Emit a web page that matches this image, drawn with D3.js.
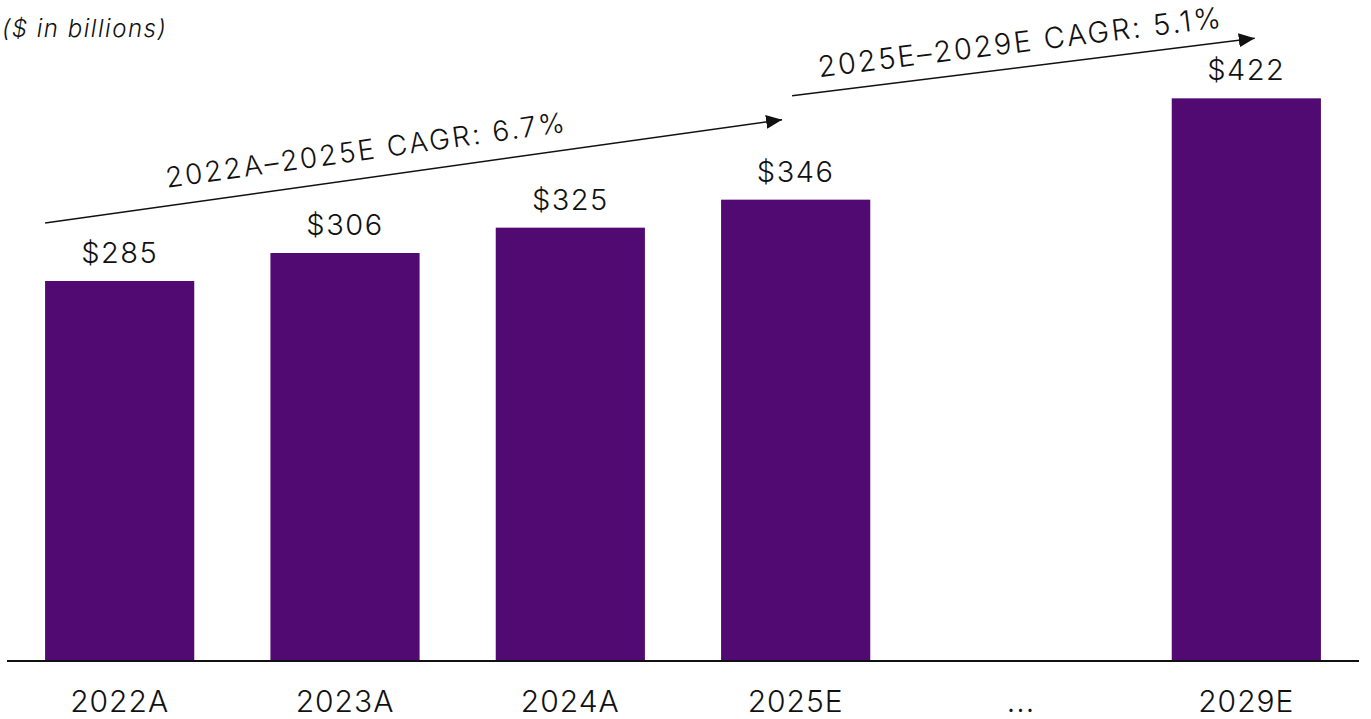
<!DOCTYPE html>
<html>
<head>
<meta charset="utf-8">
<script src="https://cdn.jsdelivr.net/npm/d3@7"></script>
<style>
  body { margin: 0; background: #fff; }
  text { font-family: Inter, "Open Sans", sans-serif; fill: #111; font-weight: 350; }
</style>
</head>
<body>
<div id="canvas"></div>
<script>
// chart data
var categories = ["2022A", "2023A", "2024A", "2025E", "...", "2029E"];
var values = [285, 306, 325, 346, null, 422];
var cagrLabels = ["2022A\u20132025E CAGR: 6.7%", "2025E\u20132029E CAGR: 5.1%"];
var cagrSpans = [["2022A", "2025E"], ["2025E", "2029E"]];

var width = 1371, height = 719;
var baseline = 661;

var svg = d3.select("#canvas").append("svg").attr("width", width).attr("height", height);

var defs = svg.append("defs");
defs.append("marker")
  .attr("id", "arrowhead")
  .attr("markerWidth", 16)
  .attr("markerHeight", 14)
  .attr("markerUnits", "userSpaceOnUse")
  .attr("orient", "auto")
  .attr("refX", 16)
  .attr("refY", 7)
  .attr("viewBox", "0 0 16 14")
  .append("path")
  .attr("d", "M 0 0 L 16 7 L 0 14 z")
  .attr("fill", "#111");

var x = d3.scaleBand()
  .domain(categories)
  .range([7, 1359])
  .paddingInner(0.338)
  .paddingOuter(0.169);

var y = d3.scaleLinear().domain([0, 450]).range([baseline, baseline - 600]);

var bars = categories.map((c, i) => ({ cat: c, value: values[i] })).filter(d => d.value !== null);

// bars
svg.selectAll("rect.bar")
  .data(bars)
  .enter()
  .append("rect")
  .attr("class", "bar")
  .attr("x", d => x(d.cat))
  .attr("y", d => y(d.value))
  .attr("width", x.bandwidth())
  .attr("height", d => y(0) - y(d.value))
  .attr("fill", "#510a72");

// value labels
svg.selectAll("text.value")
  .data(bars)
  .enter()
  .append("text")
  .attr("class", "value")
  .attr("x", d => x(d.cat) + x.bandwidth() / 2)
  .attr("y", d => y(d.value) - 18)
  .attr("text-anchor", "middle")
  .style("font-size", "29px")
  .style("letter-spacing", "1.5px")
  .text(d => "$" + d.value);

// baseline
svg.append("line")
  .attr("x1", 7).attr("x2", 1359)
  .attr("y1", baseline).attr("y2", baseline)
  .attr("stroke", "#111").attr("stroke-width", 2);

// category labels
svg.selectAll("text.cat")
  .data(categories)
  .enter()
  .append("text")
  .attr("class", "cat")
  .attr("x", d => x(d) + x.bandwidth() / 2)
  .attr("y", 712)
  .attr("text-anchor", "middle")
  .style("font-size", "30px")
  .style("letter-spacing", "1px")
  .text(d => d);

// unit label
svg.append("text")
  .attr("x", 2).attr("y", 37)
  .style("font-size", "24px")
  .style("font-style", "italic")
  .style("letter-spacing", "1.5px")
  .text("($ in billions)");

// CAGR arrows, anchored to the bars they span
var arrows = [
  { x1: x(cagrSpans[0][0]), y1: y(values[0]) - 58,
    x2: x(cagrSpans[0][1]) + 61, y2: y(values[3]) - 80, shift: -44, lift: -18, size: 28 },
  { x1: x(cagrSpans[1][0]) + 71, y1: y(values[3]) - 104,
    x2: x(cagrSpans[1][1]) + 83, y2: y(values[5]) - 60, shift: 0, lift: -15, size: 29 }
];

arrows.forEach((a, i) => {
  svg.append("line")
    .attr("x1", a.x1).attr("y1", a.y1)
    .attr("x2", a.x2).attr("y2", a.y2)
    .attr("stroke", "#111")
    .attr("stroke-width", 1.5)
    .attr("marker-end", "url(#arrowhead)");
  var angle = Math.atan2(a.y2 - a.y1, a.x2 - a.x1) * 180 / Math.PI;
  var mx = (a.x1 + a.x2) / 2, my = (a.y1 + a.y2) / 2;
  svg.append("text")
    .attr("transform", `translate(${mx},${my}) rotate(${angle})`)
    .attr("x", a.shift)
    .attr("y", a.lift)
    .attr("text-anchor", "middle")
    .style("font-size", a.size + "px")
    .style("letter-spacing", "2.4px")
    .text(cagrLabels[i]);
});
</script>
</body>
</html>
